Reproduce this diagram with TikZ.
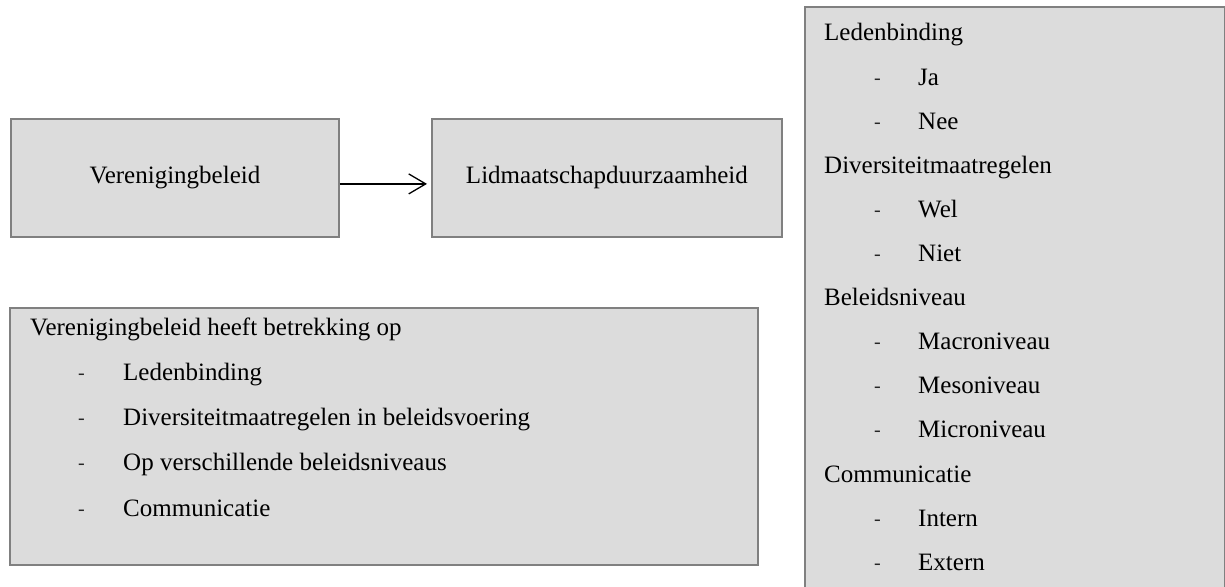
\documentclass[tikz,border=0pt]{standalone}
\usepackage{tikz}
\usepackage{color}
\usepackage{fontspec}
\setmainfont{Liberation Serif}
\usetikzlibrary{calc,arrows.meta}

\definecolor{boxgray}{RGB}{220,220,220}
\definecolor{edgegray}{RGB}{128,128,128}

\begin{document}
\begin{tikzpicture}[x=1pt, y=-1pt,
    box/.style={rectangle, draw=edgegray, line width=1.8pt, fill=boxgray, anchor=north west, inner sep=0pt},
    bigtxt/.style={font=\fontsize{25}{30}\selectfont},
    line/.style={anchor=base west, inner sep=0pt, bigtxt},
    streep/.style={anchor=base west, inner sep=0pt, font=\fontsize{20}{24}\selectfont, text=black!85}]

  \useasboundingbox (0,0) rectangle (1225,586);
  \clip (0,0) rectangle (1225,586);

  % the two boxes on top
  \node[box, bigtxt, minimum width=328pt, minimum height=118pt] (verbeleid) at (10,118) {Verenigingbeleid};
  \node[box, bigtxt, minimum width=350pt, minimum height=118pt] (lidduur) at (431,118) {Lidmaatschapduurzaamheid};

  \draw[line width=1.3pt, -{Straight Barb[length=17pt,width=20pt]}, shorten >=4pt]
    ([yshift=-6pt]verbeleid.east) -- ([yshift=-6pt]lidduur.west);

  % box with the list on the left
  \node[box, minimum width=748pt, minimum height=257pt] (betrekking) at (9,307) {};
  \node[line] (kopL) at (30,335) {Verenigingbeleid heeft betrekking op};
  \foreach \i/\txt in {1/Ledenbinding, 2/Diversiteitmaatregelen in beleidsvoering,
                       3/Op verschillende beleidsniveaus, 4/Communicatie} {
    \node[streep] (streepL\i) at (78,334+45.3*\i) {-};
    \node[line] (itemL\i) at (123,335+45.3*\i) {\txt};
  }

  % box with the list on the right
  \node[box, minimum width=420pt, minimum height=600pt] (indeling) at (804,6) {};
  \foreach \i/\txt in {0/Ledenbinding, 3/Diversiteitmaatregelen, 6/Beleidsniveau, 10/Communicatie} {
    \node[line] (kop\i) at (824,41+44.1*\i) {\txt};
  }
  \foreach \i/\txt in {1/Ja, 2/Nee, 4/Wel, 5/Niet, 7/Macroniveau, 8/Mesoniveau,
                       9/Microniveau, 11/Intern, 12/Extern} {
    \node[streep] (streep\i) at (874,40+44.1*\i) {-};
    \node[line] (item\i) at (918,41+44.1*\i) {\txt};
  }

\end{tikzpicture}
\end{document}
